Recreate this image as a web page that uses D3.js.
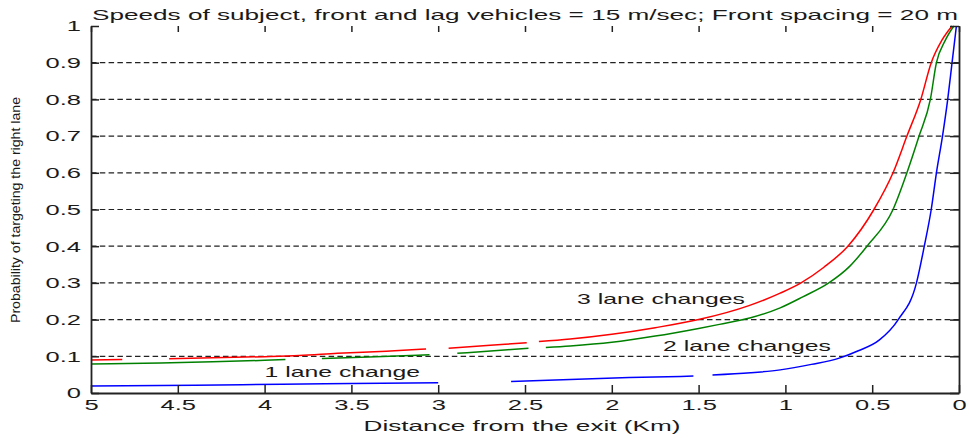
<!DOCTYPE html>
<html>
<head>
<meta charset="utf-8">
<script src="https://cdn.jsdelivr.net/npm/d3@7"></script>
<style>
    body { margin: 0; background: #fff; }
    text { font-family: "Liberation Sans", Arial, sans-serif; fill: #1a1a1a; }
</style>
</head>
<body>
<div id="chart"></div>
<script>
// [distance km, probability]; null = break in the drawn line
const oneLane = [
    [5.0, 0.019], [4.4, 0.021], [3.9, 0.024], [3.5, 0.026], [3.0, 0.028], null,
    [2.58, 0.031], [2.24, 0.037], [1.9, 0.042], [1.53, 0.046], null,
    [1.42, 0.049], [1.2, 0.055], [1.03, 0.063], [0.85, 0.078], [0.69, 0.095],
    [0.58, 0.115], [0.46, 0.144], [0.35, 0.2], [0.245, 0.3], [0.2, 0.4],
    [0.16, 0.5], [0.13, 0.6], [0.095, 0.7], [0.065, 0.8], [0.04, 0.9], [0.015, 1.0]
];
const twoLanes = [
    [5.0, 0.079], [4.6, 0.082], [4.3, 0.085], [4.0, 0.089], [3.88, 0.091], null,
    [3.67, 0.094], [3.4, 0.098], [3.05, 0.104], null,
    [2.89, 0.108], [2.6, 0.118], [2.48, 0.122], null,
    [2.38, 0.124], [2.24, 0.128], [2.0, 0.138], [1.75, 0.155], [1.5, 0.176],
    [1.38, 0.187], [1.2, 0.205], [1.03, 0.232], [0.9, 0.262], [0.75, 0.3],
    [0.63, 0.345], [0.53, 0.4], [0.38, 0.5], [0.3, 0.6], [0.23, 0.7],
    [0.165, 0.8], [0.13, 0.9], [0.08, 0.96], [0.03, 1.0]
];
const threeLanes = [
    [5.0, 0.09], [4.82, 0.091], null,
    [4.55, 0.093], [4.3, 0.096], [4.0, 0.099], [3.8, 0.102], [3.58, 0.108],
    [3.3, 0.114], [3.07, 0.12], null,
    [2.94, 0.122], [2.7, 0.13], [2.49, 0.137], null,
    [2.42, 0.14], [2.24, 0.147], [2.0, 0.16], [1.75, 0.178], [1.5, 0.2],
    [1.21, 0.238], [1.03, 0.272], [0.91, 0.3], [0.78, 0.342], [0.64, 0.4],
    [0.49, 0.5], [0.38, 0.6], [0.3, 0.7], [0.22, 0.8], [0.16, 0.9],
    [0.1, 0.96], [0.04, 1.0]
];

const xTicks = [5, 4.5, 4, 3.5, 3, 2.5, 2, 1.5, 1, 0.5, 0];
const yTicks = [0, 0.1, 0.2, 0.3, 0.4, 0.5, 0.6, 0.7, 0.8, 0.9, 1];
const gridValues = [0.1, 0.2, 0.3, 0.4, 0.5, 0.6, 0.7, 0.8, 0.9];

const series = [
    { name: "1 lane change", data: oneLane, color: "#0000ff", label: [4.0, 0.044] },
    { name: "2 lane changes", data: twoLanes, color: "#008000", label: [1.705, 0.115] },
    { name: "3 lane changes", data: threeLanes, color: "#ff0000", label: [2.2, 0.242] }
];

const title = "Speeds of subject, front and lag vehicles = 15 m/sec; Front spacing = 20 m";

const margin = { top: 26, right: 10, bottom: 45, left: 91 };
const width = 969 - margin.left - margin.right;
const height = 438 - margin.top - margin.bottom;

const root = d3.select("#chart")
    .append("svg")
    .attr("width", 969)
    .attr("height", 438);

root.append("rect").attr("width", 969).attr("height", 438).attr("fill", "#fff");

const svg = root.append("g")
    .attr("transform", `translate(${margin.left},${margin.top})`);

const x = d3.scaleLinear().domain([5, 0]).range([0, width]);
const y = d3.scaleLinear().domain([0, 1]).range([height, 0]);

// the source image is stretched sideways, so widen the glyphs the same way
function stretch(sel, k) {
    sel.each(function () {
        const w = this.getComputedTextLength();
        d3.select(this)
            .attr("textLength", w * k)
            .attr("lengthAdjust", "spacingAndGlyphs");
    });
}

// grid
svg.selectAll(".grid")
    .data(gridValues)
    .enter()
    .append("line")
    .attr("class", "grid")
    .attr("x1", 0)
    .attr("x2", width)
    .attr("y1", d => y(d))
    .attr("y2", d => y(d))
    .attr("stroke", "#222")
    .attr("stroke-width", 1.2)
    .attr("stroke-dasharray", "5.5,3.3");

// curves
const line = d3.line()
    .defined(d => d !== null)
    .x(d => x(d[0]))
    .y(d => y(d[1]))
    .curve(d3.curveMonotoneX);

svg.selectAll(".curve")
    .data(series)
    .enter()
    .append("path")
    .attr("class", "curve")
    .attr("fill", "none")
    .attr("stroke", d => d.color)
    .attr("stroke-width", 1.5)
    .attr("d", d => line(d.data));

// axes
const fmt = d3.format("");

const xAxis = svg.append("g")
    .attr("transform", `translate(0,${height})`)
    .call(d3.axisBottom(x).tickValues(xTicks).tickFormat(fmt)
        .tickSizeInner(-8).tickSizeOuter(0).tickPadding(6));

const yAxis = svg.append("g")
    .call(d3.axisLeft(y).tickValues(yTicks).tickFormat(fmt)
        .tickSizeInner(-8).tickSizeOuter(0).tickPadding(10));

const rightAxis = svg.append("g")
    .attr("transform", `translate(${width},0)`)
    .call(d3.axisRight(y).tickValues(yTicks).tickFormat("")
        .tickSizeInner(-9).tickSizeOuter(0));

const topAxis = svg.append("g")
    .call(d3.axisTop(x).tickValues(xTicks).tickFormat("")
        .tickSizeInner(-6).tickSizeOuter(0));
topAxis.select(".domain").remove();

[xAxis, yAxis, rightAxis, topAxis].forEach(g => {
    g.selectAll(".domain").attr("stroke", "#222").attr("stroke-width", 1.8);
    g.selectAll(".tick line").attr("stroke", "#222").attr("stroke-width", 1.5);
    g.selectAll("text")
        .style("font-family", "Liberation Sans, Arial, sans-serif")
        .style("font-size", "15px")
        .attr("fill", "#1a1a1a");
});

stretch(xAxis.selectAll(".tick text"), 1.7);
stretch(yAxis.selectAll(".tick text"), 1.7);

// curve labels
svg.selectAll(".curve-label")
    .data(series)
    .enter()
    .append("text")
    .attr("class", "curve-label")
    .attr("x", d => x(d.label[0]))
    .attr("y", d => y(d.label[1]))
    .style("font-size", "15px")
    .text(d => d.name)
    .call(stretch, 1.65);

// title and axis titles
root.append("text")
    .attr("x", margin.left + width / 2)
    .attr("y", 20)
    .attr("text-anchor", "middle")
    .style("font-size", "15px")
    .attr("textLength", 866)
    .attr("lengthAdjust", "spacingAndGlyphs")
    .text(title);

root.append("text")
    .attr("x", 522)
    .attr("y", 431)
    .attr("text-anchor", "middle")
    .style("font-size", "15px")
    .attr("textLength", 317)
    .attr("lengthAdjust", "spacingAndGlyphs")
    .text("Distance from the exit (Km)");

root.append("text")
    .attr("transform", "translate(20,210) rotate(-90)")
    .attr("text-anchor", "middle")
    .style("font-size", "13px")
    .attr("textLength", 226)
    .attr("lengthAdjust", "spacingAndGlyphs")
    .text("Probability of targeting the right lane");
</script>
</body>
</html>
